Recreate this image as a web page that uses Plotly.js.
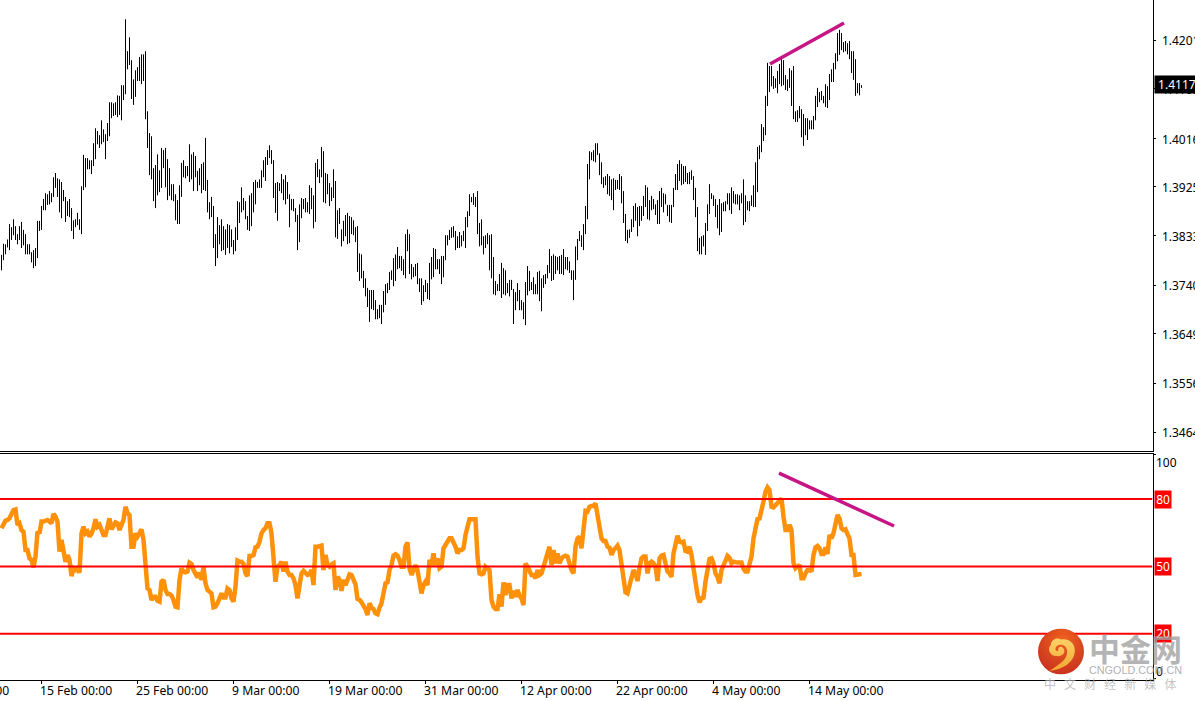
<!DOCTYPE html>
<html><head><meta charset="utf-8">
<script src="https://cdn.plot.ly/plotly-3.0.1.min.js"></script>
<style>html,body{margin:0;padding:0;background:#fff;overflow:hidden}#c{width:1195px;height:701px}</style>
</head><body><div id="c"></div>
<script>
// Prices in 1/10000 units
const highPips=[
13797,13818,13817,13826,13855,13849,13864,13851,13836,13851,
13859,13844,13836,13817,13817,13802,13806,13810,13861,13861,
13889,13902,13913,13911,13917,13913,13943,13951,13941,13939,
13934,13919,13906,13898,13902,13885,13862,13864,13876,13864,
13926,13985,13979,13979,13975,13975,14007,14035,14030,14022,
14050,14033,14024,14045,14084,14084,14082,14084,14097,14096,
14116,14116,14240,14180,14206,14163,14127,14144,14150,14169,
14174,14174,14180,14067,14026,14020,13960,13966,13986,13956,
13998,13994,13998,13977,13960,13930,13930,13911,13900,13928,
13970,13975,13964,13964,14005,13986,13990,13983,13955,13960,
13968,13971,14017,13938,13896,13906,13889,13836,13868,13853,
13864,13851,13845,13855,13853,13845,13825,13849,13898,13896,
13924,13904,13898,13870,13909,13913,13934,13938,13934,13939,
13956,13975,13981,13994,14003,13994,13975,13932,13934,13932,
13949,13939,13947,13934,13911,13902,13902,13885,13872,13892,
13904,13902,13904,13896,13928,13923,13909,13970,13977,13958,
14000,13992,13951,13949,13932,13924,13958,13936,13881,13885,
13845,13861,13872,13876,13870,13868,13862,13849,13851,13800,
13798,13767,13753,13735,13731,13731,13731,13712,13695,13703,
13703,13729,13742,13744,13765,13768,13791,13798,13812,13795,
13795,13789,13836,13845,13836,13780,13774,13780,13782,13753,
13753,13740,13750,13744,13782,13793,13810,13808,13789,13789,
13795,13795,13834,13834,13844,13849,13851,13842,13832,13840,
13834,13842,13868,13879,13911,13906,13913,13906,13917,13857,
13864,13832,13834,13838,13834,13836,13793,13748,13742,13761,
13782,13772,13768,13744,13750,13750,13733,13727,13744,13731,
13712,13708,13746,13776,13767,13746,13755,13742,13765,13767,
13753,13759,13761,13778,13808,13795,13798,13795,13793,13795,
13797,13808,13793,13793,13785,13768,13768,13813,13827,13842,
13834,13855,13889,13968,13992,13990,13994,14007,14007,13988,
13971,13943,13945,13949,13945,13939,13941,13938,13938,13949,
13945,13917,13874,13844,13845,13864,13889,13894,13887,13889,
13889,13908,13928,13924,13900,13908,13902,13892,13900,13917,
13923,13913,13911,13891,13891,13891,13923,13949,13968,13975,
13968,13964,13964,13951,13953,13956,13945,13923,13887,13829,
13832,13834,13857,13892,13930,13913,13909,13902,13891,13902,
13894,13896,13898,13913,13913,13924,13917,13911,13911,13909,
13913,13939,13909,13898,13898,13909,13928,13971,14000,14003,
14043,14037,14096,14158,14152,14152,14133,14129,14143,14156,
14171,14163,14135,14127,14148,14144,14152,14067,14069,14077,
14071,14062,14054,14054,14050,14050,14058,14096,14111,14103,
14105,14096,14118,14114,14137,14146,14158,14176,14214,14220,
14214,14197,14199,14195,14199,14180,14180,14165,14120,14120,14116];
const lowPips=[
13768,13787,13798,13811,13806,13825,13834,13825,13817,13825,
13810,13815,13798,13798,13798,13783,13772,13776,13791,13842,
13844,13881,13881,13891,13892,13896,13906,13923,13906,13877,
13866,13898,13859,13870,13868,13842,13827,13849,13853,13844,
13836,13919,13924,13958,13958,13949,13964,13977,14005,13998,
14005,14009,13977,14011,14020,14054,14058,14060,14056,14060,
14050,14088,14099,14146,14154,14090,14079,14094,14124,14124,
14118,14124,14052,13998,13947,13939,13898,13885,13909,13915,
13923,13960,13924,13900,13908,13900,13898,13862,13855,13855,
13906,13943,13941,13945,13934,13939,13917,13943,13917,13928,
13913,13919,13917,13877,13864,13868,13810,13776,13791,13817,
13804,13806,13797,13810,13800,13812,13798,13804,13825,13857,
13877,13881,13864,13844,13842,13851,13877,13892,13923,13923,
13923,13943,13936,13966,13979,13968,13904,13876,13861,13917,
13913,13900,13892,13902,13849,13881,13879,13859,13806,13821,
13866,13883,13877,13877,13874,13883,13847,13859,13943,13932,
13943,13896,13894,13911,13889,13898,13904,13830,13827,13855,
13813,13823,13832,13817,13819,13836,13834,13821,13765,13748,
13753,13735,13719,13699,13671,13695,13693,13676,13676,13678,
13667,13689,13703,13725,13731,13750,13738,13748,13770,13772,
13767,13759,13753,13804,13761,13751,13755,13757,13742,13727,
13703,13710,13727,13714,13712,13751,13755,13770,13770,13761,
13742,13755,13787,13815,13825,13829,13830,13806,13810,13810,
13813,13823,13810,13849,13870,13896,13891,13887,13836,13813,
13815,13798,13810,13817,13768,13753,13723,13721,13729,13729,
13716,13723,13721,13725,13719,13731,13667,13693,13710,13693,
13693,13676,13665,13721,13729,13731,13723,13723,13723,13710,
13691,13735,13742,13753,13763,13748,13750,13761,13768,13761,
13761,13759,13770,13768,13763,13750,13712,13750,13787,13823,
13812,13806,13836,13864,13939,13975,13973,13971,13985,13947,
13930,13923,13928,13911,13908,13900,13881,13919,13921,13919,
13894,13857,13823,13819,13829,13840,13849,13861,13832,13851,
13861,13870,13887,13864,13862,13881,13883,13872,13855,13855,
13887,13877,13892,13870,13859,13857,13887,13919,13919,13936,
13928,13930,13934,13930,13930,13938,13900,13868,13804,13798,
13798,13813,13797,13842,13874,13902,13889,13868,13847,13834,
13840,13879,13879,13892,13881,13874,13894,13892,13892,13881,
13894,13853,13859,13881,13879,13889,13887,13887,13915,13977,
13990,14011,14022,14077,14103,14114,14109,14111,14101,14118,
14114,14116,14107,14105,14111,14077,14052,14047,14047,14054,
14018,14002,14022,14013,14033,14033,14033,14050,14075,14084,
14088,14082,14075,14073,14088,14122,14122,14146,14161,14173,
14182,14178,14180,14174,14165,14139,14126,14096,14101,14097,14111];
const rsiValues=[
67,68.5,70.4,70.7,71.4,73.4,75.1,75.4,68.5,69.2,
66.2,65.5,57.3,57.3,53.6,52.9,49.6,54.3,65.5,64.7,
70,70,70.4,70.7,70,69.2,73.4,72.2,70,56.6,
61.8,55.8,52.1,55,52.9,45.7,49.1,48.4,49.1,47.2,
64.7,67.7,64.7,65.5,63.3,64.7,67,71,67.7,68.5,
65.5,64,64,68.5,71.4,66.5,67.7,69.6,69.2,66.2,
68.5,70.7,76.6,73.7,72.9,58.8,58.8,64.7,63.3,65.5,
66.5,61.8,48.4,40.2,39.5,35,36.5,36.5,34.7,34.3,
43.2,44,39.5,37.7,37.7,37.1,35,32.1,31.8,44,
49.1,47.7,47.4,47.7,51.7,51.1,48.4,46.9,45.1,47.2,
44,49.9,42.5,39.5,38.8,38,31.8,32.1,33.6,36.5,
38,36.2,36.2,40.2,39.5,35.8,34.3,41,52.6,52.1,
52.1,51.1,46.9,45.7,54.7,54.8,55,58.5,58.8,61,
64.7,66.2,67,69.2,69.2,64.7,49.9,43.2,49.9,50.6,
52.1,47.7,52.1,47.7,46.2,46.2,44.7,41.7,35.8,43.2,
46.9,48,46.9,46.2,46.5,48.4,41.7,58.8,58.8,58.8,
59.3,48.4,55.1,50.6,49.9,50.9,51.4,39.5,45.4,44,
39.1,44,41.7,44,46.5,46.2,44.4,42,35.5,35.1,
34,32.5,31,28.4,33.6,31.6,31,29.1,28.7,31.6,
33.6,38,42.5,42.9,48.4,50.6,54.8,55.4,54.8,52.9,
49.9,49.9,58.8,60.7,49.2,46.2,48.4,50.6,48.4,42.5,
38,41.7,43.2,41.7,52.9,50.6,55.8,50.6,53.6,49.2,
49.9,58.1,59.8,61.8,62.5,62.5,60.7,58.8,55.8,57.3,
57.3,58.1,64,67.7,71,71,71,71,54.4,46.9,
46.5,46.9,49.9,49.2,48.4,35.1,32.1,31,31,37.6,
32.1,42.9,37.3,41.7,41.7,35.8,39.1,36.5,39.5,37,
35.8,32.8,51.4,49.9,47.7,46.2,46.2,44.7,48.4,46.2,
46.9,49.9,52.1,54.4,58.8,50.6,57.3,51.4,55.8,51.4,
53.6,54.4,54.8,54.4,50.9,48.4,46.9,58.8,62.5,63.3,
58.1,66.2,74.7,74.4,76.6,76.9,76.9,78.1,72.9,67.7,
62.5,61.3,61.3,58.8,58.4,55.1,57.3,58.1,59.3,57.3,
49.9,42.5,38.5,38,41,45.4,48.4,46.9,43.5,49.2,
53.6,54.4,54.4,46.9,51.4,52.1,51.4,49.9,43.5,53.6,
54.8,55.1,50.6,47.7,46.9,45.4,55.8,59.6,63.7,61,
60.7,61,56.9,56.6,58.8,55.1,46.9,43.2,37.3,34,
35.8,36.1,43.2,49.9,53.3,53.6,51.4,46.9,45.4,42.5,
48.4,50.4,52.9,54.7,53.9,51.4,52.1,51.7,51.7,51.7,
51.7,48.9,47.7,47.7,50.4,54.4,62.5,68.5,71.1,71.4,
76.6,78.9,83.3,85.2,84,76.6,76.3,77.4,78.4,79.9,
80.3,72.2,66.2,66.2,68.5,66.2,51.4,49.2,49.9,50.7,
44.7,44.7,46.9,48.4,48.4,47.7,55.1,58.5,59.1,58.1,
55.5,55.5,58.5,55.5,64,62.5,64.8,69.2,72.9,71.4,
67,66.2,66.5,64.4,62.5,55.1,55.1,46.2,46.2,46.2,46.6];

const priceTicks=[1.4201,1.4109,1.4016,1.3925,1.3833,1.3740,1.3649,1.3556,1.3464];
const priceTickLabels=['1.4201','1.4109','1.4016','1.3925','1.3833','1.3740','1.3649','1.3556','1.3464'];
const lastPrice=1.4117;
const rsiLevels=[80,50,20];
const dateTickBars=[-28,20,68,116,164,212,260,308,356,404];
const dateTickLabels=['5 Feb 00:00','15 Feb 00:00','25 Feb 00:00','9 Mar 00:00','19 Mar 00:00','31 Mar 00:00','12 Apr 00:00','22 Apr 00:00','4 May 00:00','14 May 00:00'];
const priceTrendBars=[384.25,421.25], priceTrendValues=[1.4156,1.4233];
const rsiTrendBars=[388.75,446.25], rsiTrendValues=[91.6,68];

const W=1195,H=701;
const FONT='"Noto Sans", sans-serif';
const high=highPips.map(v=>v/10000), low=lowPips.map(v=>v/10000);
const bx=[],by=[];
high.forEach((h,i)=>{bx.push(i,i,null);by.push(low[i],h,null);});
const rsiX=rsiValues.map((_,i)=>i);
const BARS_MIN=-0.75,BARS_MAX=575.5;
const px2paper=p=>p/W, py2paper=p=>(H-p)/H;
const barPx=i=>(i-BARS_MIN)*2;

const data=[
 {type:'scatter',mode:'lines',x:bx,y:by,xaxis:'x',yaxis:'y',line:{color:'#000',width:1},hoverinfo:'skip',connectgaps:false},
 {type:'scatter',mode:'lines',x:priceTrendBars,y:priceTrendValues,xaxis:'x',yaxis:'y',line:{color:'#C71585',width:3.5},hoverinfo:'skip'},
 {type:'scatter',mode:'lines',x:rsiX,y:rsiValues,xaxis:'x2',yaxis:'y2',line:{color:'#FF910A',width:4.5,shape:'linear'},hoverinfo:'skip'}
];
rsiLevels.forEach(l=>data.push({type:'scatter',mode:'lines',x:[BARS_MIN,BARS_MAX],y:[l,l],xaxis:'x2',yaxis:'y2',line:{color:'#FF0000',width:2},hoverinfo:'skip'}));
data.push({type:'scatter',mode:'lines',x:rsiTrendBars,y:rsiTrendValues,xaxis:'x2',yaxis:'y2',line:{color:'#C71585',width:3.5},hoverinfo:'skip'});

const ann=[];
dateTickBars.forEach((b,i)=>ann.push({xref:'paper',yref:'paper',x:px2paper(barPx(b)-2.5),y:py2paper(690.5),xanchor:'left',yanchor:'middle',text:dateTickLabels[i],showarrow:false,borderpad:0,font:{family:FONT,size:12.2,color:'#000'}}));
ann.push({xref:'paper',yref:'y',x:px2paper(1154),y:lastPrice,xanchor:'left',yanchor:'middle',text:'\u00a01.4117\u00a0\u00a0',showarrow:false,bgcolor:'#000',borderpad:0,font:{family:FONT,size:12,color:'#fff'}});
rsiLevels.forEach(l=>ann.push({xref:'paper',yref:'y2',x:px2paper(1154),y:l,xanchor:'left',yanchor:'middle',text:'\u200a'+l+'\u200a',showarrow:false,bgcolor:'#FF0000',borderpad:0,font:{family:FONT,size:12,color:'#fff'}}));
ann.push({xref:'paper',yref:'y2',x:px2paper(1155),y:100,xanchor:'left',yanchor:'top',yshift:1,text:'100',showarrow:false,borderpad:0,font:{family:FONT,size:12,color:'#000'}});
ann.push({xref:'paper',yref:'y2',x:px2paper(1155),y:0,xanchor:'left',yanchor:'bottom',yshift:-2,text:'0',showarrow:false,borderpad:0,font:{family:FONT,size:12,color:'#000'}});
// watermark
ann.push({xref:'paper',yref:'paper',x:px2paper(1135),y:py2paper(647),xanchor:'center',yanchor:'middle',text:'<b>中金网</b>',showarrow:false,borderpad:0,font:{family:'"Noto Sans CJK SC"',size:31,color:'rgba(160,160,160,0.8)'}});
ann.push({xref:'paper',yref:'paper',x:px2paper(1135),y:py2paper(670),xanchor:'center',yanchor:'middle',text:'CNGOLD.COM.CN',showarrow:false,borderpad:0,font:{family:'"Liberation Sans"',size:10.8,color:'rgba(160,160,160,0.85)'}});
ann.push({xref:'paper',yref:'paper',x:px2paper(1110),y:py2paper(683),xanchor:'center',yanchor:'middle',text:['中','文','财','经','新','媒','体'].join('\u00a0\u00a0\u00a0'),showarrow:false,borderpad:0,font:{family:'"Noto Sans CJK SC"',size:12,color:'rgba(180,180,180,0.8)'}});

const logo='<svg xmlns="http://www.w3.org/2000/svg" viewBox="0 0 100 100"><defs><radialGradient id="a" cx="55%" cy="25%" r="80%"><stop offset="0" stop-color="#ef5f1c"/><stop offset="1" stop-color="#c62c1a"/></radialGradient><linearGradient id="b" x1="0" y1="0" x2="0" y2="1"><stop offset="0" stop-color="#fbd266"/><stop offset="1" stop-color="#f2a52c"/></linearGradient></defs><circle cx="50" cy="50" r="50" fill="url(#a)"/><path fill="url(#b)" d="M25 92C55 90 80 72 80 48C80 30 65 21 50 24C42 18 28 24 28 36C20 42 24 60 40 60C55 62 62 50 54 42C50 38 44 40 44 46C44 50 38 50 38 44C38 36 50 32 58 38C68 46 64 66 48 76C40 82 32 88 25 92Z"/></svg>';

const axisCommon={showgrid:false,zeroline:false,color:'#000',linecolor:'#000',linewidth:1};
const layout={
 width:W,height:H,autosize:false,margin:{l:0,r:0,t:0,b:0,pad:0},paper_bgcolor:'#fff',plot_bgcolor:'#fff',showlegend:false,dragmode:false,
 annotations:ann,
 images:[{source:'data:image/svg+xml;utf8,'+encodeURIComponent(logo),xref:'paper',yref:'paper',x:px2paper(1038),y:py2paper(628.5),sizex:px2paper(46),sizey:46/H,xanchor:'left',yanchor:'top',sizing:'stretch',layer:'above',opacity:0.98}],
 xaxis:Object.assign({},axisCommon,{domain:[0,1152.5/W],range:[BARS_MIN,BARS_MAX],anchor:'y',showline:true,showticklabels:false,ticks:'',fixedrange:true}),
 yaxis:Object.assign({},axisCommon,{domain:[1-451/H,1],range:[1.42762-451*0.000188,1.42762],anchor:'x',side:'right',showline:true,tickmode:'array',tickvals:priceTicks,ticktext:priceTickLabels,ticks:'outside',ticklen:2,tickcolor:'#000',ticklabelstandoff:4,ticklabelshift:1,tickfont:{family:FONT,size:12,color:'#000'},fixedrange:true}),
 xaxis2:Object.assign({},axisCommon,{domain:[0,1152.5/W],range:[BARS_MIN,BARS_MAX],anchor:'y2',showline:true,mirror:true,tickmode:'array',tickvals:dateTickBars.filter(b=>b>=0),ticktext:dateTickBars.filter(b=>b>=0).map(()=>''),ticks:'outside',ticklen:3,tickcolor:'#000',fixedrange:true}),
 yaxis2:Object.assign({},axisCommon,{domain:[(H-679.5)/H,(H-454)/H],range:[-0.36,100.08],anchor:'x2',side:'right',showline:true,tickmode:'array',tickvals:[100,0],ticktext:['',''],ticks:'outside',ticklen:2,tickcolor:'#000',fixedrange:true})
};
Plotly.newPlot('c',data,layout,{displayModeBar:false,staticPlot:true});
</script></body></html>
